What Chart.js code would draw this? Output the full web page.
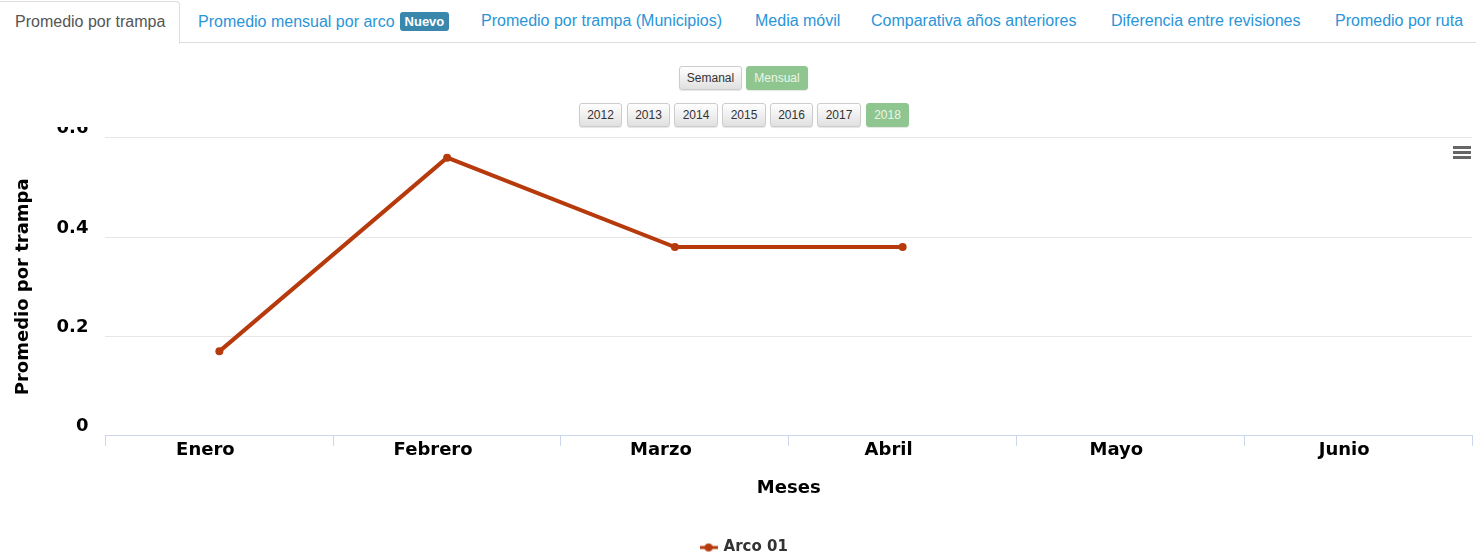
<!DOCTYPE html>
<html>
<head>
<meta charset="utf-8">
<script src="https://cdn.jsdelivr.net/npm/chart.js@4/dist/chart.umd.min.js"></script>
<style>
  body { margin: 0; width: 1476px; height: 552px; background: #fff; position: relative; overflow: hidden; font-family: "Liberation Sans", Arial, sans-serif; }
  .tabs { position: absolute; left: 0; top: 0; width: 1476px; height: 42px; border-bottom: 1px solid #ddd; }
  .tab { position: absolute; top: 12px; font-size: 16px; color: #2a95d8; white-space: nowrap; }
  .tab.active { top: 1px; left: 0; height: 41px; width: 179px; border: 1px solid #ddd; border-bottom: 1px solid #fff; border-left: none; border-radius: 0 4px 0 0; color: #555; background: #fff; }
  .tab.active span { position: absolute; left: 15px; top: 11px; }
  .badge { display: inline-block; background: #3a87ad; color: #fff; font-size: 13px; font-weight: bold; padding: 2px 5px; border-radius: 3px; margin-left: 5px; vertical-align: 1px; }
  .btn { position: absolute; height: 22px; border: 1px solid #ccc; border-radius: 3px; background: linear-gradient(#fff, #e0e0e0); font-size: 12px; color: #333; text-align: center; line-height: 22px; box-shadow: 0 1px 1px rgba(0,0,0,0.1); }
  .btn.on { background: #8fc58f; border-color: #8fc58f; color: #eaf5ea; }
  .menu { position: absolute; left: 1453px; top: 146px; width: 18px; }
  .menu div { height: 3px; background: #666; margin-bottom: 2px; }
  #wrap { position: absolute; left: 0; top: 127px; width: 1476px; height: 425px; overflow: hidden; }
  #box { position: absolute; left: 0; top: -17px; width: 1476px; height: 455px; }
</style>
</head>
<body>
<div class="tabs">
  <div class="tab active"><span>Promedio por trampa</span></div>
  <div class="tab" style="left:198px">Promedio mensual por arco<span class="badge">Nuevo</span></div>
  <div class="tab" style="left:481px">Promedio por trampa (Municipios)</div>
  <div class="tab" style="left:755px">Media móvil</div>
  <div class="tab" style="left:871px">Comparativa años anteriores</div>
  <div class="tab" style="left:1111px">Diferencia entre revisiones</div>
  <div class="tab" style="left:1335px">Promedio por ruta</div>
</div>
<div class="btn" style="left:679px;top:66px;width:61px">Semanal</div>
<div class="btn on" style="left:746px;top:66px;width:60px">Mensual</div>
<div class="btn" style="left:579px;top:103px;width:41px">2012</div>
<div class="btn" style="left:627px;top:103px;width:41px">2013</div>
<div class="btn" style="left:674px;top:103px;width:42px">2014</div>
<div class="btn" style="left:722px;top:103px;width:42px">2015</div>
<div class="btn" style="left:770px;top:103px;width:41px">2016</div>
<div class="btn" style="left:817px;top:103px;width:42px">2017</div>
<div class="btn on" style="left:866px;top:103px;width:41px">2018</div>
<div id="wrap"><div id="box"><canvas id="myChart"></canvas></div></div>
<div class="menu"><div></div><div></div><div></div></div>
<script>
const meses = ['Enero', 'Febrero', 'Marzo', 'Abril', 'Mayo', 'Junio']
const arco01 = [0.17, 0.56, 0.38, 0.38, null, null]
const yTicks = [0, 0.2, 0.4, 0.6]

const rojo = '#b63a0c'
const fuente = 'DejaVu Sans'

// simbolo de la leyenda: linea con punto
const simbolo = document.createElement('canvas')
simbolo.width = 18
simbolo.height = 10
const sctx = simbolo.getContext('2d')
sctx.strokeStyle = rojo
sctx.lineWidth = 3
sctx.beginPath()
sctx.moveTo(0, 5)
sctx.lineTo(18, 5)
sctx.stroke()
sctx.fillStyle = rojo
sctx.beginPath()
sctx.arc(9, 5, 4, 0, Math.PI * 2)
sctx.fill()

const ctx = document.getElementById('myChart').getContext('2d')
const myChart = new Chart(ctx, {
  type: 'line',
  data: {
    labels: meses,
    datasets: [
      {
        label: 'Arco 01',
        data: arco01,
        borderColor: rojo,
        backgroundColor: rojo,
        borderWidth: 4,
        pointRadius: 4,
        pointBackgroundColor: rojo,
        pointBorderWidth: 0,
        pointStyle: 'circle',
        spanGaps: false
      }
    ]
  },
  options: {
    responsive: true,
    maintainAspectRatio: false,
    animation: false,
    layout: { padding: { top: 19, right: 0, left: 13, bottom: 0 } },
    plugins: {
      tooltip: { enabled: false },
      legend: {
        position: 'bottom',
        labels: {
          color: '#333',
          font: { family: fuente, size: 15, weight: 'bold' },
          usePointStyle: true,
          pointStyle: simbolo,
          padding: 6
        }
      }
    },
    scales: {
      x: {
        offset: true,
        grid: {
          offset: true,
          drawOnChartArea: false,
          drawTicks: true,
          tickLength: 10,
          color: '#ccd6eb'
        },
        border: { color: '#ccd6eb', width: 1 },
        ticks: {
          color: '#000',
          font: { family: fuente, size: 18, weight: 'bold' },
          padding: -6,
          labelOffset: -14,
          maxRotation: 0
        },
        title: {
          display: true,
          text: 'Meses',
          color: '#000',
          font: { family: fuente, size: 18, weight: 'bold' },
          padding: { top: 22, bottom: 35 }
        }
      },
      y: {
        min: 0,
        max: 0.6,
        afterBuildTicks: function (axis) {
          axis.ticks = yTicks.map(v => ({ value: v }))
        },
        grid: { color: '#e6e6e6', drawTicks: false },
        border: { display: false },
        ticks: {
          color: '#000',
          font: { family: fuente, size: 18, weight: 'bold' },
          padding: 17,
          labelOffset: -9,
          callback: v => String(v)
        },
        title: {
          display: true,
          text: 'Promedio por trampa',
          color: '#000',
          font: { family: fuente, size: 18, weight: 'bold' },
          padding: { top: 0, bottom: 5 }
        }
      }
    }
  }
})
</script>
</body>
</html>
